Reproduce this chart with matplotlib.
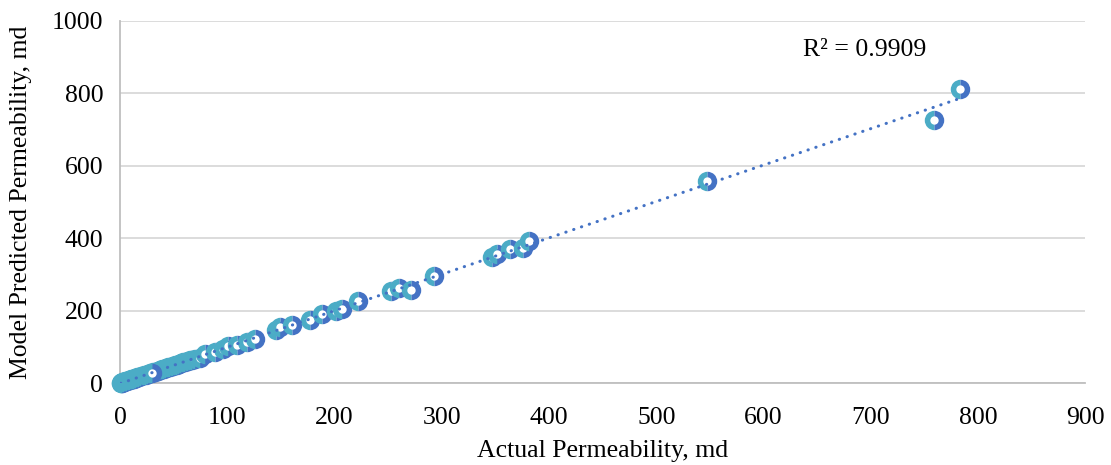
import matplotlib
matplotlib.use("Agg")
import matplotlib.pyplot as plt
import numpy as np

# Data
actual = [0.5, 1, 1.5, 2, 3, 4, 5, 6, 7, 8, 9, 10, 11, 12, 13, 14, 15, 16, 18, 20,
          22, 24, 26, 28, 31, 33, 35, 37, 39, 41, 43, 45, 47, 49, 51, 53, 55, 57, 59, 61,
          63, 65, 67, 70, 75, 79, 89, 96, 101, 109, 118, 126, 145, 149, 160, 177, 188,
          201, 207, 222, 253, 260, 271, 293, 347, 351, 364, 376, 381, 547, 759, 783, 30]
predicted = [0.6, 1.2, 1.4, 2.1, 2.8, 4.2, 4.8, 6.1, 6.8, 8.3, 8.7, 10.2, 10.6, 12.3, 12.5, 14.1, 14.6, 16.2, 17.4, 19.8,
             21.5, 23.6, 25.2, 27.4, 30.1, 32.0, 34.2, 35.8, 38.0, 40.1, 41.5, 43.8, 45.6, 47.5, 49.6, 51.2, 53.4, 55.0, 57.3, 59.1,
             61.0, 63.2, 64.8, 67, 69, 80, 86, 94, 103, 105, 113, 122, 146, 155, 160, 175, 191,
             199, 204, 227, 254, 262, 258, 296, 348, 356, 370, 373, 392, 558, 726, 812, 28]

x_ticks = [0, 100, 200, 300, 400, 500, 600, 700, 800, 900]
y_ticks = [0, 200, 400, 600, 800, 1000]
r2_label = "R² = 0.9909"
x_label = "Actual Permeability, md"
y_label = "Model Predicted Permeability, md"

plt.rcParams['font.family'] = ['Liberation Serif', 'DejaVu Serif']

fig = plt.figure(figsize=(11.11, 4.65), dpi=100)
ax = fig.add_axes([0.108, 0.176, 0.869, 0.779])

teal = '#4bacc6'
blue = '#4472c4'

for i, (xv, yv) in enumerate(zip(actual, predicted)):
    ax.plot([xv], [yv], linestyle='none', marker='o', markersize=14,
            fillstyle='left', markerfacecolor=teal, markerfacecoloralt=blue,
            markeredgewidth=0, zorder=3 + i * 0.01, clip_on=False)
    ax.plot([xv], [yv], linestyle='none', marker='o', markersize=6,
            markerfacecolor='white', markeredgewidth=0,
            zorder=3.005 + i * 0.01, clip_on=False)

xa = np.array(actual, dtype=float)
ya = np.array(predicted, dtype=float)
slope, intercept = np.polyfit(xa, ya, 1)
xl = np.array([xa.min(), xa.max()])
ax.plot(xl, slope * xl + intercept, color=blue, linewidth=2.2,
        linestyle=(0, (0.1, 2.6)), dash_capstyle='round', zorder=10)

ax.set_xlim(0, 900)
ax.set_ylim(0, 1000)
ax.set_xticks(x_ticks)
ax.set_yticks(y_ticks)
ax.tick_params(axis='both', length=0, labelsize=18.5, colors='black')
ax.tick_params(axis='x', pad=17)
ax.tick_params(axis='y', pad=12)
ax.yaxis.grid(True, color='#d9d9d9', linewidth=1.3)
ax.set_axisbelow(True)
for s in ['top', 'right']:
    ax.spines[s].set_visible(False)
for s in ['left', 'bottom']:
    ax.spines[s].set_color('#bfbfbf')
    ax.spines[s].set_linewidth(1.3)

ax.set_xlabel(x_label, fontsize=18.5, labelpad=8)
ax.set_ylabel(y_label, fontsize=18.5, labelpad=14)
ax.text(637, 920, r2_label, fontsize=18.5, ha='left', va='center')

fig.savefig('out.png', dpi=100)
